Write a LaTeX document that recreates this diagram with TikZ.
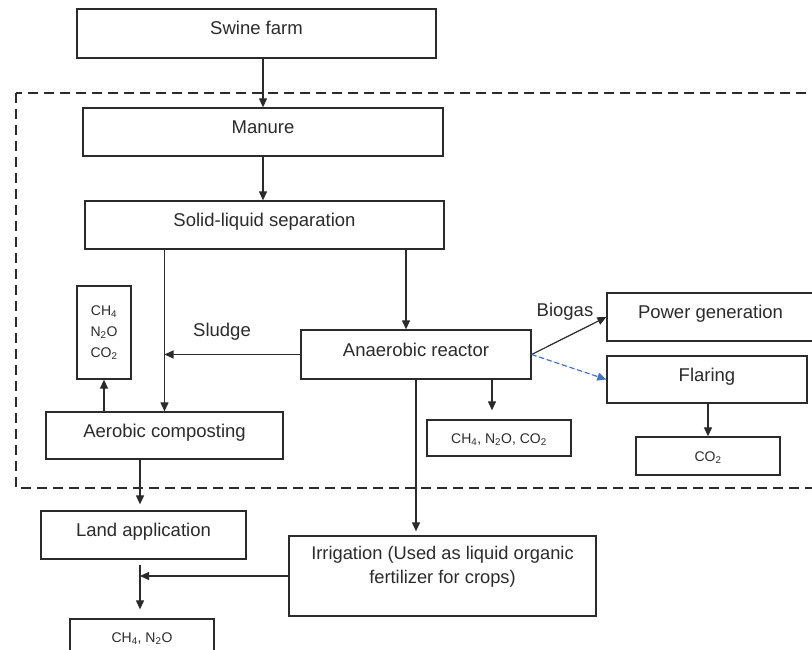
\documentclass[tikz,border=0pt]{standalone}
\usepackage{fontspec}
\setmainfont{Liberation Sans}
\usetikzlibrary{arrows.meta,calc}
\definecolor{ink}{HTML}{2B2B2B}
\definecolor{flarecol}{HTML}{4472C4}

\begin{document}
\begin{tikzpicture}[x=1pt,y=-1pt,
  box/.style={draw=ink, line width=1.3pt, text=ink, inner sep=0pt,
    font=\fontsize{18.5}{22}\selectfont, text height=13pt, text depth=10pt},
  gasbox/.style={draw=ink, line width=1.3pt, text=ink, inner sep=0pt,
    font=\fontsize{14}{21}\selectfont},
  gasline/.style={gasbox, text height=11pt, text depth=1pt},
  flow/.style={draw=ink, line width=1.2pt, -{Triangle[length=9pt,width=8pt]}},
  lbl/.style={text=ink, font=\fontsize{18.5}{22}\selectfont, inner sep=0pt}]

\useasboundingbox (0,0) rectangle (812,650);
\clip (0,0) rectangle (812,650);
\fill[white] (0,0) rectangle (812,650);

% system boundary
\draw[ink, line width=1.3pt, dash pattern=on 10pt off 6pt] (16,93) rectangle (840,488);

% process boxes
\node[box, minimum width=359pt, minimum height=49pt] (swine) at (256.5,33.5) {Swine farm};
\node[box, minimum width=360pt, minimum height=48pt] (manure) at (263,132) {Manure};
\node[box, minimum width=359pt, minimum height=48pt] (sls) at (264.5,225) {Solid-liquid separation};
\node[box, minimum width=230pt, minimum height=49pt] (ar) at (416,354.5) {Anaerobic reactor};
\node[box, minimum width=237pt, minimum height=47pt] (ac) at (164.5,435.5) {Aerobic composting};
\node[box, minimum width=207pt, minimum height=48pt] (pg) at (710.5,317) {Power generation};
\node[box, minimum width=200pt, minimum height=47pt] (flaring) at (707,379.5) {Flaring};
\node[box, minimum width=205pt, minimum height=48pt] (land) at (143.5,535) {Land application};
\node[box, minimum width=307pt, minimum height=80pt] (irr) at (442.5,576) {};
\node[lbl, align=center, font=\fontsize{18.3}{24}\selectfont] (irrtext) at (442.5,567)
  {Irrigation (Used as liquid organic\\fertilizer for crops)};

% emission boxes
\node[gasbox, minimum width=54pt, minimum height=93pt, align=center] (chleft) at (104,332.5)
  {CH\textsubscript{4}\\N\textsubscript{2}O\\CO\textsubscript{2}};
\node[gasline, minimum width=144pt, minimum height=36pt] (cmid) at (499,438)
  {CH\textsubscript{4}, N\textsubscript{2}O, CO\textsubscript{2}};
\node[gasline, minimum width=144pt, minimum height=38pt] (co2r) at (708,456) {CO\textsubscript{2}};
\node[gasline, minimum width=144pt, minimum height=36pt] (cbot) at (142,637)
  {CH\textsubscript{4}, N\textsubscript{2}O};

% helper points on box edges
\coordinate (arin) at ([xshift=-10pt]ar.north);
\coordinate (armid) at ([xshift=76pt]ar.south);
\coordinate (acout) at ([xshift=-24.5pt]ac.south);
\coordinate (landout) at ([xshift=-3.5pt]land.south);

% flows
\draw[flow] (manure.north |- swine.south) -- (manure.north);
\draw[flow] (manure.south) -- (manure.south |- sls.north);
\draw[flow] (ac.north |- sls.south) -- (ac.north);
\draw[flow] (arin |- sls.south) -- (arin);
\draw[flow] (ar.west) -- (ar.west -| ac.north);
\node[lbl] (sludge) at (222,332) {Sludge};
\draw[flow] (chleft.south |- ac.north) -- (chleft.south);
\draw[flow] (ar.east) -- (pg.west);
\node[lbl] (biogas) at (565,312) {Biogas};
\draw[flow, draw=flarecol, fill=flarecol, dash pattern=on 5pt off 3pt] (ar.east) -- (flaring.west);
\draw[flow, shorten >=9pt] (armid) -- (armid |- cmid.north);
\draw[flow] (co2r.north |- flaring.south) -- (co2r.north);
\draw[flow, shorten >=6pt] (acout) -- (acout |- land.north);
\draw[flow, shorten >=4pt] (ar.south) -- (ar.south |- irr.north);
\draw[flow, shorten <=5pt, shorten >=9pt] (landout) -- (landout |- cbot.north);
\draw[flow] (irr.west) -- (irr.west -| landout);
\end{tikzpicture}
\end{document}
